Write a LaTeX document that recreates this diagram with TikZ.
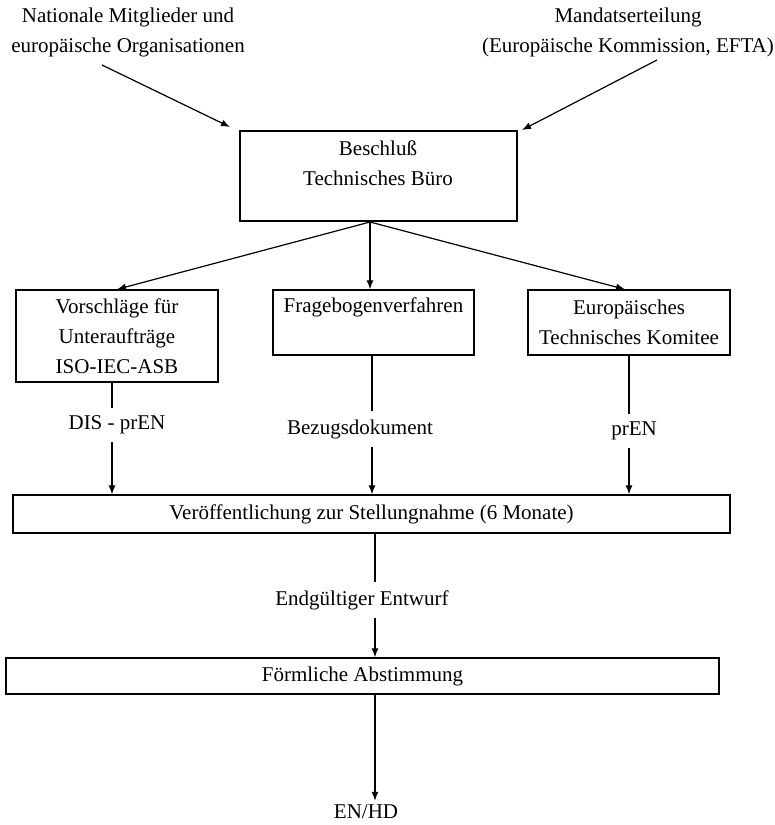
\documentclass[tikz,border=0pt]{standalone}
\usepackage{fontspec}
\setmainfont{Liberation Serif}
\usetikzlibrary{arrows.meta}
\begin{document}
\begin{tikzpicture}[x=1pt,y=-1pt,
  every node/.style={font=\fontsize{21}{30}\selectfont, align=center, inner sep=0pt},
  box/.style={draw, line width=1.3pt, inner sep=0pt},
  lbl/.style={inner xsep=2pt, inner ysep=8pt},
  conn/.style={line width=1.2pt},
  arr/.style={conn, -{Latex[length=9pt,width=7pt]}}]
\useasboundingbox (0,0) rectangle (775,825);

% sources at the top
\node (src1) at (128,32) {Nationale Mitglieder und\\europäische Organisationen};
\node (src2) at (628,32) {Mandatserteilung\\(Europäische Kommission, EFTA)};

% decision box
\node[box, minimum width=277pt, minimum height=90pt] (tb) at (378.5,176) {};
\node (tbt) at (378,163) {Beschluß\\Technisches Büro};

% three routes
\node[box, minimum width=202pt, minimum height=92pt] (l) at (117,336)
  {Vorschläge für\\Unteraufträge\\ISO-IEC-ASB};
\node[box, minimum width=201pt, minimum height=65pt] (m) at (373.5,322.5) {};
\node (mt) at (373.5,307) {Fragebogenverfahren};
\node[box, minimum width=202pt, minimum height=65pt] (r) at (629,322.5)
  {Europäisches\\Technisches Komitee};

% route labels
\node[lbl] (dis) at (117,425) {DIS - prEN};
\node[lbl] (bez) at (360,429) {Bezugsdokument};
\node[lbl] (pren) at (634,431) {prEN};

% publication and vote
\node[box, minimum width=717pt, minimum height=38pt] (v) at (371.5,514)
  {Veröffentlichung zur Stellungnahme (6 Monate)};
\node[lbl] (end) at (362,600) {Endgültiger Entwurf};
\node[box, minimum width=713pt, minimum height=36pt] (f) at (362.5,676)
  {Förmliche Abstimmung};
\node[inner sep=4pt] (enhd) at (366,812) {EN/HD};

% connector end points and columns
\coordinate (s1) at (102,65);
\coordinate (e1) at (230,127);
\coordinate (s2) at (657,60);
\coordinate (e2) at (522,130);
\coordinate (fan) at (370,222);
\coordinate (xl) at (112,0);
\coordinate (xm) at (372,0);
\coordinate (xr) at (629,0);
\coordinate (xf) at (375,0);

% inputs
\draw[arr] (s1) -- (e1);
\draw[arr] (s2) -- (e2);

% fan-out
\draw[arr] (fan) -- (l.north);
\draw[arr] (fan) -- (fan |- m.north);
\draw[arr] (fan) -- (625,0 |- r.north);

% routes down to publication
\draw[conn] (xl |- l.south) -- (xl |- dis.north);
\draw[arr] (xl |- dis.south) -- (xl |- v.north);
\draw[conn] (xm |- m.south) -- (xm |- bez.north);
\draw[arr] (xm |- bez.south) -- (xm |- v.north);
\draw[conn] (xr |- r.south) -- (xr |- pren.north);
\draw[arr] (xr |- pren.south) -- (xr |- v.north);

% publication to vote to result
\draw[conn] (xf |- v.south) -- (xf |- end.north);
\draw[arr] (xf |- end.south) -- (xf |- f.north);
\draw[arr] (xf |- f.south) -- (xf |- enhd.north);
\end{tikzpicture}
\end{document}
